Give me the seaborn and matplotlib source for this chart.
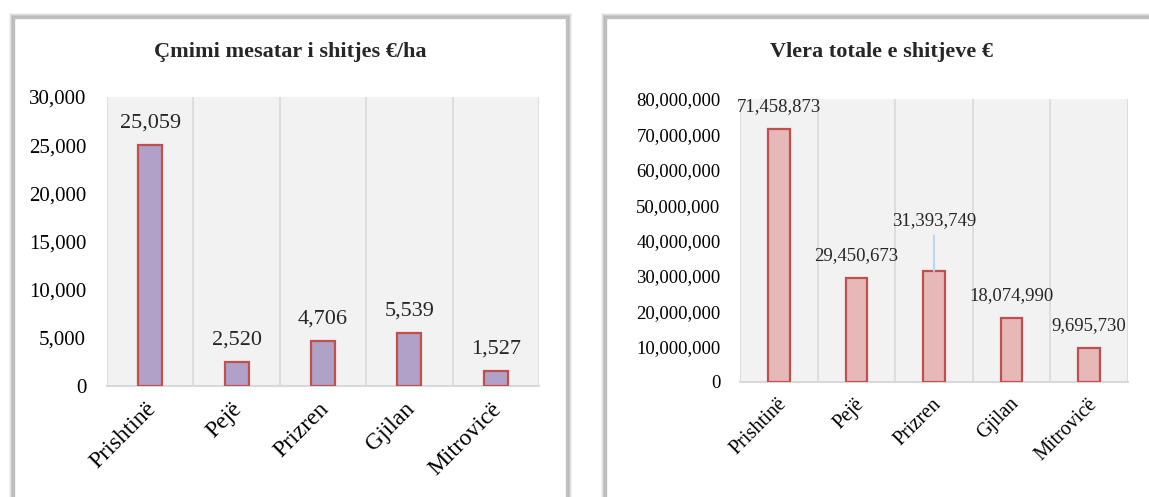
import matplotlib
matplotlib.use("Agg")
import matplotlib.pyplot as plt
import matplotlib.patches as patches
import matplotlib.transforms as mtransforms
import seaborn as sns
import pandas as pd

# ── Dati ──────────────────────────────────────────────────────────────────────
QYTETET = ["Prishtinë", "Pejë", "Prizren", "Gjilan", "Mitrovicë"]
CMIMI_MESATAR = [25059, 2520, 4706, 5539, 1527]
VLERA_TOTALE = [71458873, 29450673, 31393749, 18074990, 9695730]

TITULLI_MAJTAS = "Çmimi mesatar i shitjes €/ha"
TITULLI_DJATHTAS = "Vlera totale e shitjeve €"

sns.set_theme(style="white")
plt.rcParams["font.family"] = ["Liberation Serif", "DejaVu Serif"]

fig = plt.figure(figsize=(11.49, 4.97), dpi=100)
W, H = 1149, 497


def fx(px):
    return px / W


def fy(py):
    return 1 - py / H


# kuadratet me hije (si ne Excel)
def kuti(x0, y0, x1, y1):
    for i, a in enumerate([0.10, 0.14, 0.20, 0.30]):
        d = 4 - i
        fig.patches.append(patches.Rectangle(
            (fx(x0 - d), fy(y1)), fx(x1 - x0 + 2 * d), fy(y0 - d) - fy(y1),
            transform=fig.transFigure, facecolor="none",
            edgecolor=(0.45, 0.45, 0.45, a), linewidth=2.0, zorder=-2))
    fig.patches.append(patches.Rectangle(
        (fx(x0), fy(y1)), fx(x1 - x0), fy(y0) - fy(y1),
        transform=fig.transFigure, facecolor="white", edgecolor="#BFBFBF",
        linewidth=1.0, zorder=-1))


kuti(14, 18, 566, 510)
kuti(606, 18, 1160, 510)

df1 = pd.DataFrame({"qyteti": QYTETET, "vlera": CMIMI_MESATAR})
df2 = pd.DataFrame({"qyteti": QYTETET, "vlera": VLERA_TOTALE})

ax1 = fig.add_axes([fx(107), fy(386), fx(539 - 107), fy(97) - fy(386)])
ax2 = fig.add_axes([fx(740), fy(382), fx(1128 - 740), fy(99) - fy(382)])

# ax, data, ngjyra, ymax, hapi, madhesia y, madhesia x, pad y, zhvendosja x
konfig = [
    (ax1, df1, "#B1A0C7", 30000, 5000, 15, 17, 15, -5),
    (ax2, df2, "#E6B9B8", 80000000, 10000000, 13.5, 14.5, 14, -2),
]

for ax, df, ngjyra, ymax, hapi, fs_y, fs_x, pad_y, dx in konfig:
    sns.barplot(data=df, x="qyteti", y="vlera", hue="qyteti",
                palette=[ngjyra] * len(df), legend=False, width=0.28,
                edgecolor="#C0504D", linewidth=1.6, saturation=1, ax=ax,
                zorder=3)
    ax.set_facecolor("#F2F2F2")
    ax.set_xlim(-0.5, len(df) - 0.5)
    ax.set_ylim(0, ymax)
    ax.set_yticks(range(0, ymax + 1, hapi))
    ax.yaxis.set_major_formatter(
        matplotlib.ticker.FuncFormatter(lambda v, p: f"{int(v):,}"))
    for i in range(len(df) + 1):
        ax.axvline(i - 0.5, color="#D9D9D9", linewidth=1.2, zorder=1)
    for s in ["top", "right", "left"]:
        ax.spines[s].set_visible(False)
    ax.spines["bottom"].set_color("#D9D9D9")
    ax.spines["bottom"].set_linewidth(1.5)
    ax.tick_params(axis="both", length=0, colors="black")
    ax.tick_params(axis="y", pad=pad_y, labelsize=fs_y)
    ax.tick_params(axis="x", pad=9, labelsize=fs_x)
    ax.set_xticks(range(len(df)))
    ax.set_xticklabels(df["qyteti"], rotation=45, ha="right",
                       rotation_mode="anchor")
    zhvendos = mtransforms.ScaledTranslation(dx / 100, 0, fig.dpi_scale_trans)
    for lbl in ax.get_xticklabels():
        lbl.set_transform(lbl.get_transform() + zhvendos)
    ax.set_xlabel("")
    ax.set_ylabel("")

# titujt
fig.text(fx(290), fy(52), TITULLI_MAJTAS, ha="center", va="center",
         fontsize=16, fontweight="bold")
fig.text(fx(881), fy(52), TITULLI_DJATHTAS, ha="center", va="center",
         fontsize=16, fontweight="bold")

# etiketat e vlerave
for i, v in enumerate(CMIMI_MESATAR):
    ax1.annotate(f"{v:,}", (i, v), xytext=(0, 9), textcoords="offset points",
                 ha="center", va="bottom", fontsize=16)

for i, v in enumerate(VLERA_TOTALE):
    if QYTETET[i] == "Prizren":
        ax2.annotate(f"{v:,}", (i, v), xytext=(0, 30),
                     textcoords="offset points", ha="center", va="bottom",
                     fontsize=13.5,
                     arrowprops=dict(arrowstyle="-", color="#BDD7EE",
                                     linewidth=1.5, shrinkA=2, shrinkB=0))
    else:
        ax2.annotate(f"{v:,}", (i, v), xytext=(0, 10),
                     textcoords="offset points", ha="center", va="bottom",
                     fontsize=13.5)

fig.savefig("out.png", dpi=100)
